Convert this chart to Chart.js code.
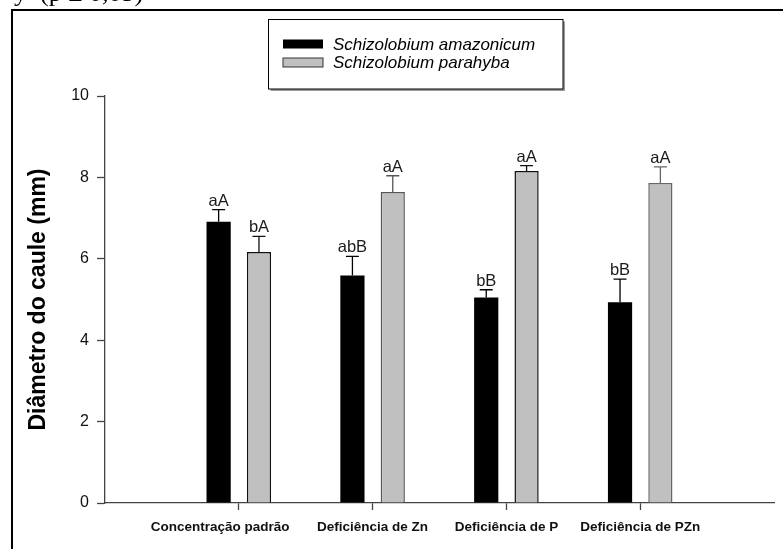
<!DOCTYPE html>
<html>
<head>
<meta charset="utf-8">
<script src="https://cdn.jsdelivr.net/npm/chart.js@4.4.1/dist/chart.umd.min.js"></script>
<style>
  html, body { margin: 0; padding: 0; background: #fff; overflow: hidden; }
  #wrap { width: 783px; height: 549px; position: relative; }
</style>
</head>
<body>
<div id="wrap"><canvas id="c" width="783" height="549"></canvas></div>
<script>
// Stem diameter (mm) per nutrient treatment, mean and standard error
const categories = ['Concentração padrão', 'Deficiência de Zn', 'Deficiência de P', 'Deficiência de PZn'];
const amazonicum = [6.91, 5.59, 5.05, 4.93];
const amazonicumErr = [0.30, 0.47, 0.19, 0.57];
const amazonicumLetters = ['aA', 'abB', 'bB', 'bB'];
const parahyba = [6.17, 7.64, 8.16, 7.86];
const parahybaErr = [0.38, 0.40, 0.13, 0.40];
const parahybaLetters = ['bA', 'aA', 'aA', 'aA'];
const yTicks = [0, 2, 4, 6, 8, 10];
const captionTail = 'y (p ≤ 0,05)';

// The x axis keeps an empty slot on each side of the four treatments
const slotLabels = [''].concat(categories, ['']);
const pad = arr => [null].concat(arr, [null]);

const SANS = '"Liberation Sans", Arial, sans-serif';
const AXIS = '#444';

// Page frame and the end of the caption line above it
const framePlugin = {
  id: 'frame',
  beforeDraw(chart) {
    const ctx = chart.ctx;
    ctx.save();
    ctx.fillStyle = '#fff';
    ctx.fillRect(0, 0, chart.width, chart.height);
    ctx.fillStyle = '#000';
    ctx.font = '26px "Liberation Serif", "Times New Roman", serif';
    ctx.textBaseline = 'alphabetic';
    ctx.textAlign = 'left';
    ctx.fillText(captionTail.slice(0, 1), 14, 1);
    ctx.fillText(captionTail.slice(2), 40, 1);
    ctx.strokeStyle = '#000';
    ctx.lineWidth = 2;
    ctx.beginPath();
    ctx.moveTo(12, chart.height + 2);
    ctx.lineTo(12, 10);
    ctx.lineTo(chart.width + 2, 10);
    ctx.stroke();
    ctx.restore();
  }
};

// Upper error whiskers and significance letters above each bar
const errorPlugin = {
  id: 'errors',
  afterDatasetsDraw(chart) {
    const ctx = chart.ctx;
    const y = chart.scales.y;
    ctx.save();
    chart.data.datasets.forEach((ds, di) => {
      const meta = chart.getDatasetMeta(di);
      meta.data.forEach((bar, i) => {
        const v = ds.data[i];
        if (v === null || v === undefined) return;
        const e = ds.errors[i];
        const top = y.getPixelForValue(v);
        const cap = y.getPixelForValue(v + e);
        ctx.strokeStyle = ds.whiskerColor[i];
        ctx.lineWidth = 1.3;
        ctx.beginPath();
        ctx.moveTo(bar.x, top);
        ctx.lineTo(bar.x, cap);
        ctx.moveTo(bar.x - 6.5, cap);
        ctx.lineTo(bar.x + 6.5, cap);
        ctx.stroke();
        ctx.fillStyle = '#1a1a1a';
        ctx.font = '16.5px ' + SANS;
        ctx.textAlign = 'center';
        ctx.textBaseline = 'alphabetic';
        ctx.fillText(ds.letters[i], bar.x, cap - 4);
      });
    });
    ctx.restore();
  }
};

// Boxed legend with a light drop shadow
const legendPlugin = {
  id: 'boxLegend',
  afterDraw(chart) {
    const ctx = chart.ctx;
    const bx = 268.5, by = 19.5, bw = 294.5, bh = 69.5;
    ctx.save();
    ctx.fillStyle = '#9a9a9a';
    ctx.fillRect(bx + 2, by + 2, bw, bh);
    ctx.fillStyle = '#fff';
    ctx.fillRect(bx, by, bw, bh);
    ctx.strokeStyle = '#000';
    ctx.lineWidth = 1;
    ctx.strokeRect(bx, by, bw, bh);
    const rows = [39.5, 58];
    chart.data.datasets.forEach((ds, i) => {
      const sy = rows[i];
      ctx.fillStyle = ds.swatch;
      ctx.fillRect(283, sy, 40, 9);
      if (i === 1) {
        ctx.strokeStyle = '#333';
        ctx.lineWidth = 1;
        ctx.strokeRect(283, sy, 40, 9);
      }
      ctx.fillStyle = '#000';
      ctx.font = 'italic 17px ' + SANS;
      ctx.textAlign = 'left';
      ctx.textBaseline = 'alphabetic';
      ctx.fillText(ds.label, 333, sy + 10);
    });
    ctx.restore();
  }
};

new Chart(document.getElementById('c'), {
  type: 'bar',
  data: {
    labels: slotLabels,
    datasets: [
      {
        label: 'Schizolobium amazonicum',
        data: pad(amazonicum),
        errors: pad(amazonicumErr),
        letters: pad(amazonicumLetters),
        whiskerColor: pad(['#000', '#000', '#000', '#000']),
        swatch: '#000',
        backgroundColor: '#000',
        borderColor: '#000',
        borderWidth: 0,
        categoryPercentage: 0.603,
        barPercentage: 0.6
      },
      {
        label: 'Schizolobium parahyba',
        data: pad(parahyba),
        errors: pad(parahybaErr),
        letters: pad(parahybaLetters),
        whiskerColor: pad(['#111', '#555', '#111', '#666']),
        swatch: '#c0c0c0',
        backgroundColor: '#c0c0c0',
        borderColor: pad(['#111', '#555', '#111', '#666']),
        borderWidth: 1.5,
        borderSkipped: 'bottom',
        categoryPercentage: 0.603,
        barPercentage: 0.6
      }
    ]
  },
  options: {
    responsive: false,
    animation: false,
    devicePixelRatio: 1,
    layout: { padding: { top: 96, left: 0, right: 0, bottom: 0 } },
    plugins: {
      legend: { display: false },
      tooltip: { enabled: false },
      title: { display: false }
    },
    scales: {
      x: {
        type: 'category',
        offset: false,
        border: { display: true, color: AXIS, width: 1.3 },
        grid: {
          offset: false,
          drawOnChartArea: false,
          drawTicks: true,
          tickLength: 7,
          tickColor: ctx => (slotLabels[ctx.index] ? AXIS : 'rgba(0,0,0,0)'),
          tickWidth: 1.3
        },
        ticks: {
          autoSkip: false,
          maxRotation: 0,
          padding: 9,
          color: '#111',
          font: { family: SANS, size: 13.5, weight: 'bold' },
          // the first treatment name sits a little left of its tick
          callback: (v, i) => (i === 1 ? slotLabels[i] + '\u00a0'.repeat(10) : slotLabels[i])
        },
        afterFit: s => { s.height = 46; }
      },
      y: {
        min: 0,
        max: 10,
        afterBuildTicks: s => { s.ticks = yTicks.map(v => ({ value: v })); },
        border: { display: true, color: AXIS, width: 1.3 },
        grid: {
          drawOnChartArea: false,
          drawTicks: true,
          tickLength: 8,
          tickColor: AXIS,
          tickWidth: 1.3
        },
        ticks: {
          padding: 8,
          color: '#111',
          font: { family: SANS, size: 16 }
        },
        title: {
          display: true,
          text: 'Diâmetro do caule (mm)',
          color: '#000',
          font: { family: SANS, size: 23, weight: 'bold' },
          padding: { top: 25, bottom: 0 }
        },
        afterFit: s => { s.width = 105; }
      }
    }
  },
  plugins: [framePlugin, errorPlugin, legendPlugin]
});
</script>
</body>
</html>
